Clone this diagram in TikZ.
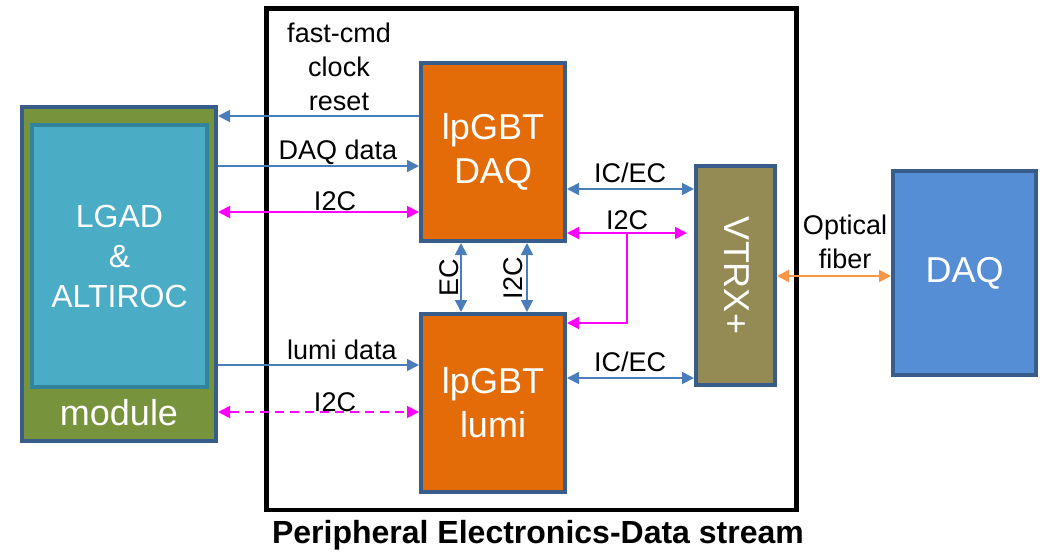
\documentclass[tikz,border=0pt]{standalone}
\usepackage{fontspec}
\setmainfont{Liberation Sans}
\usetikzlibrary{arrows.meta}
\definecolor{bordblue}{HTML}{385D8A}
\definecolor{modgreen}{HTML}{77933C}
\definecolor{lgadfill}{HTML}{4BACC6}
\definecolor{lgadbord}{HTML}{31849B}
\definecolor{chiporange}{HTML}{E36C09}
\definecolor{vtrxfill}{HTML}{948A54}
\definecolor{daqfill}{HTML}{558ED5}
\definecolor{arrblue}{HTML}{4A7EBB}
\definecolor{arrmag}{HTML}{FF00FF}
\definecolor{arrorange}{HTML}{F79646}
\tikzset{tri/.tip={Triangle[length=12pt,width=12pt]}}
\begin{document}
\begin{tikzpicture}[x=1pt,y=-1pt,
  box/.style={draw=bordblue,line width=4pt,inner sep=0pt,text=white,align=center},
  bigtxt/.style={font=\fontsize{36}{44}\selectfont},
  lbl/.style={font=\fontsize{27}{34}\selectfont,inner sep=0pt,align=center},
  bl/.style={draw=arrblue,line width=1.8pt},
  mg/.style={draw=arrmag,line width=1.8pt},
  og/.style={draw=arrorange,line width=2.2pt}]
\useasboundingbox (0,0) rectangle (1043,555);
% frame
\node[draw=black,line width=4.5pt,minimum width=530pt,minimum height=501.5pt,inner sep=0pt] (frame) at (531.5,259.25) {};
% module
\node[box,fill=modgreen,minimum width=194pt,minimum height=334pt] (module) at (119,274) {};
\node[draw=lgadbord,line width=4pt,fill=lgadfill,minimum width=175pt,minimum height=262pt,inner sep=0pt,text=white,align=center,font=\fontsize{32}{40}\selectfont] (lgad) at (119.5,256) {LGAD\\\&\\ALTIROC};
\node[text=white,bigtxt,inner sep=0pt] (modlbl) at (119,413) {module};
% chips
\node[box,fill=chiporange,minimum width=144pt,minimum height=178pt,bigtxt] (daqchip) at (493,152) {lpGBT\\DAQ};
\node[box,fill=chiporange,minimum width=144pt,minimum height=178pt,bigtxt] (lumichip) at (493,403) {lpGBT\\lumi};
\node[box,fill=vtrxfill,minimum width=79pt,minimum height=219pt] (vtrx) at (735.5,275.5) {};
\node[text=white,bigtxt,rotate=-90,inner sep=0pt] (vtrxlbl) at (737,275.5) {VTRX+};
\node[box,fill=daqfill,minimum width=143pt,minimum height=204pt,bigtxt] (daq) at (964.5,273) {DAQ};
% left-side connections
\draw[bl,-{tri}] (daqchip.west |- 0,116) -- (module.east |- 0,116);
\draw[bl,-{tri}] (module.east |- 0,166) -- (daqchip.west |- 0,166);
\draw[mg,{tri}-{tri}] (module.east |- 0,212) -- (daqchip.west |- 0,212);
\draw[bl,-{tri}] (module.east |- 0,365) -- (lumichip.west |- 0,365);
\draw[mg,dash pattern=on 9pt off 6pt,{tri}-{tri}] (module.east |- 0,412) -- (lumichip.west |- 0,412);
\node[lbl] (fcl) at (339,67) {fast-cmd\\clock\\reset};
\node[lbl] (dqd) at (338,152) {DAQ data};
\node[lbl] (i2ca) at (335,201) {I2C};
\node[lbl] (lmd) at (342,350) {lumi data};
\node[lbl] (i2cb) at (335,402) {I2C};
% vertical between chips
\draw[bl,{tri}-{tri}] (daqchip.south -| 461,0) -- (lumichip.north -| 461,0);
\draw[bl,{tri}-{tri}] (daqchip.south -| 527,0) -- (lumichip.north -| 527,0);
\node[lbl,rotate=90] (ecl) at (449,278) {EC};
\node[lbl,rotate=90] (i2cv) at (513,278) {I2C};
% right-side connections
\draw[bl,{tri}-{tri}] (daqchip.east |- 0,189) -- (vtrx.west |- 0,189);
\coordinate (i2cend) at (687,233);
\coordinate (branch) at (627,233);
\draw[mg,{tri}-{tri}] (daqchip.east |- 0,233) -- (i2cend);
\draw[mg,-{tri}] (branch) |- (lumichip.east |- 0,323);
\draw[bl,{tri}-{tri}] (lumichip.east |- 0,378) -- (vtrx.west |- 0,378);
\node[lbl] (icec1) at (630,173) {IC/EC};
\node[lbl] (i2cr) at (627,220) {I2C};
\node[lbl] (icec2) at (630,362) {IC/EC};
% optical
\draw[og,{tri}-{tri}] (vtrx.east |- 0,276) -- (daq.west |- 0,276);
\node[lbl] (opt) at (845,242) {Optical\\fiber};
% title
\node[font=\bfseries\fontsize{32}{38}\selectfont,inner sep=0pt] (title) at (538,535) {Peripheral Electronics-Data stream};
\end{tikzpicture}
\end{document}
